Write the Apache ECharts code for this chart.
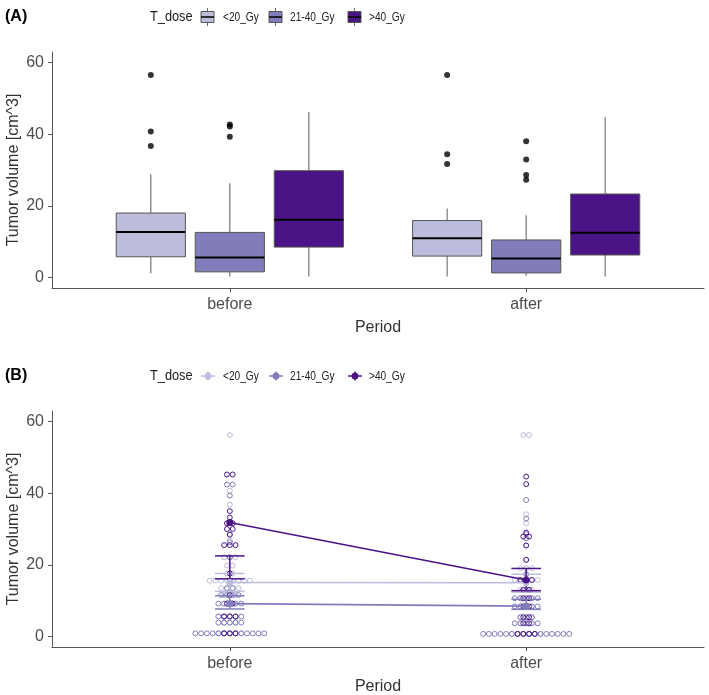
<!DOCTYPE html>
<html><head><meta charset="utf-8">
<script src="https://cdn.jsdelivr.net/npm/echarts@6/dist/echarts.min.js"></script>
<style>html,body{margin:0;padding:0;background:#fff}#c{width:709px;height:695px}</style>
</head><body><div id="c"></div>
<script>
const periods = ['before', 'after'];
const groups = ['<20_Gy', '21-40_Gy', '>40_Gy'];
const yTicks = [0, 20, 40, 60];
// Panel A boxplot stats: [lower whisker, Q1, median, Q3, upper whisker] for before / after
const boxLow = [[1.2, 5.8, 12.7, 18.0, 28.8], [0.3, 6.0, 11.0, 15.9, 19.3]];
const boxMid = [[0.3, 1.6, 5.6, 12.6, 26.3], [0.5, 1.3, 5.3, 10.5, 17.4]];
const boxHigh = [[0.3, 8.5, 16.1, 29.8, 46.2], [0.3, 6.3, 12.5, 23.3, 44.7]];
const outLow = [[56.5, 40.7, 36.7], [56.5, 34.4, 31.7]];
const outMid = [[42.7, 42.1, 39.3], [38.0, 32.9, 28.6, 27.3]];
const outHigh = [[], []];
// Panel B means and error bar limits (before / after)
const meanLow = [15.1, 15.0];
const meanMid = [9.2, 8.5];
const meanHigh = [31.8, 15.8];
const errLow = [[12.6, 17.6], [12.4, 17.4]];
const errMid = [[7.7, 11.4], [7.6, 10.4]];
const errHigh = [[16.1, 22.5], [12.8, 19.0]];
// Panel B dot plot bins: [bin value, count]
const dotsLowBefore = [[56.2,1],[40.7,1],[36.8,1],[28.6,1],[26.8,1],[22.1,3],[19.8,2],[17.6,2],[15.6,8],[13.5,4],[11.6,3],[9.2,2],[5.6,3],[3.9,3],[0.9,5]];
const dotsMidBefore = [[42.4,2],[39.3,1],[26.3,1],[22.1,1],[17.6,1],[13.5,2],[11.6,4],[9.2,5],[5.6,5],[3.9,5],[0.9,13]];
const dotsHighBefore = [[45.2,2],[35.0,1],[33.2,1],[31.6,2],[30.0,2],[28.4,1],[25.5,3],[17.6,1],[15.6,1],[11.6,1],[9.2,2],[5.6,3],[0.9,3]];
const dotsLowAfter = [[56.2,2],[34.1,1],[31.6,1],[25.4,1],[21.4,1],[19.1,3],[15.8,5],[13.0,3],[10.7,3],[8.4,3],[5.4,3],[3.7,3],[0.75,6]];
const dotsMidAfter = [[38.1,1],[32.9,1],[28.6,1],[27.4,1],[17.4,1],[13.0,2],[10.7,5],[8.4,5],[5.4,3],[3.7,5],[0.75,16]];
const dotsHighAfter = [[44.6,1],[42.5,1],[29.0,1],[27.9,2],[25.4,1],[21.4,1],[15.8,3],[13.0,2],[10.7,2],[8.4,2],[5.4,2],[3.7,2],[0.75,4]];

const colors = ['#BCBDDC', '#807DBA', '#4A1486'];
const FONT = 'Liberation Sans, Arial, sans-serif';
const dodge = 0.8 / 3, boxW = 0.7 / 3, binW = 1.6, errW = 0.1;

const boxes = [boxLow, boxMid, boxHigh];
const outs = [outLow, outMid, outHigh];
const means = [meanLow, meanMid, meanHigh];
const errs = [errLow, errMid, errHigh];
const dots = [[dotsLowBefore, dotsLowAfter], [dotsMidBefore, dotsMidAfter], [dotsHighBefore, dotsHighAfter]];

function xAxisCfg(gi) {
  return {
    type: 'value', gridIndex: gi, min: 0.4, max: 2.6,
    name: 'Period', nameLocation: 'middle', nameGap: 32, nameMoveOverlap: false,
    nameTextStyle: { fontFamily: FONT, fontSize: 16, color: '#333' },
    axisLine: { onZero: false, lineStyle: { color: '#555', width: 1 } },
    axisTick: { customValues: [1, 2], length: 4, lineStyle: { color: '#555' } },
    axisLabel: { customValues: [1, 2], formatter: v => periods[Math.round(v) - 1], fontFamily: FONT, fontSize: 16, color: '#4d4d4d', margin: 9 },
    splitLine: { show: false }
  };
}
function yAxisCfg(gi) {
  return {
    type: 'value', gridIndex: gi, min: -2.9, max: 62.9,
    name: 'Tumor volume [cm^3]', nameLocation: 'middle', nameGap: 30, nameRotate: 90, nameMoveOverlap: false,
    nameTextStyle: { fontFamily: FONT, fontSize: 16, color: '#333' },
    axisLine: { show: true, onZero: false, lineStyle: { color: '#555', width: 1 } },
    axisTick: { show: true, customValues: yTicks, length: 4, lineStyle: { color: '#555' } },
    axisLabel: { customValues: yTicks, fontFamily: FONT, fontSize: 16, color: '#4d4d4d', margin: 8 },
    splitLine: { show: false }
  };
}

const series = [];
// Panel A: boxes
groups.forEach((g, gi) => {
  series.push({
    type: 'custom', xAxisIndex: 0, yAxisIndex: 0, z: 2,
    data: periods.map((p, pi) => [pi + 1 + (gi - 1) * dodge].concat(boxes[gi][pi])),
    renderItem: function (params, api) {
      const x = api.value(0);
      const lo = api.coord([x, api.value(1)]), q1 = api.coord([x, api.value(2)]);
      const md = api.coord([x, api.value(3)]), q3 = api.coord([x, api.value(4)]);
      const hi = api.coord([x, api.value(5)]);
      const w = api.size([boxW, 0])[0];
      return { type: 'group', children: [
        { type: 'line', shape: { x1: hi[0], y1: hi[1], x2: q3[0], y2: q3[1] }, style: { stroke: '#777', lineWidth: 1.2 } },
        { type: 'line', shape: { x1: lo[0], y1: lo[1], x2: q1[0], y2: q1[1] }, style: { stroke: '#777', lineWidth: 1.2 } },
        { type: 'rect', shape: { x: q3[0] - w / 2, y: q3[1], width: w, height: q1[1] - q3[1] }, style: { fill: colors[gi], stroke: '#555', lineWidth: 1 } },
        { type: 'line', shape: { x1: md[0] - w / 2, y1: md[1], x2: md[0] + w / 2, y2: md[1] }, style: { stroke: '#000', lineWidth: 2 } }
      ] };
    }
  });
  const od = [];
  periods.forEach((p, pi) => outs[gi][pi].forEach(v => od.push([pi + 1 + (gi - 1) * dodge, v])));
  series.push({ type: 'scatter', xAxisIndex: 0, yAxisIndex: 0, z: 3, symbol: 'circle', symbolSize: 6, itemStyle: { color: '#000' }, data: od, silent: true });
});
// Panel B: dot plots
groups.forEach((g, gi) => {
  const dd = [];
  periods.forEach((p, pi) => dots[gi][pi].forEach(b => dd.push([pi + 1, b[0], b[1]])));
  series.push({
    type: 'custom', xAxisIndex: 1, yAxisIndex: 1, z: 2 + gi * 0.1, data: dd,
    renderItem: function (params, api) {
      const c = api.coord([api.value(0), api.value(1)]);
      const n = api.value(2);
      const d = api.size([0, binW])[1];
      const ch = [];
      for (let i = 0; i < n; i++) {
        ch.push({ type: 'circle', shape: { cx: c[0] + (i - (n - 1) / 2) * d, cy: c[1], r: d / 2 - 0.4 }, style: { fill: 'none', stroke: colors[gi], lineWidth: 1 } });
      }
      return { type: 'group', children: ch };
    }
  });
});
// Panel B: error bars, mean lines and points
groups.forEach((g, gi) => {
  series.push({
    type: 'custom', xAxisIndex: 1, yAxisIndex: 1, z: 5,
    data: periods.map((p, pi) => [pi + 1, errs[gi][pi][0], errs[gi][pi][1]]),
    renderItem: function (params, api) {
      const lo = api.coord([api.value(0), api.value(1)]), hi = api.coord([api.value(0), api.value(2)]);
      const w = api.size([errW, 0])[0];
      const st = { stroke: colors[gi], lineWidth: 1.5 };
      return { type: 'group', children: [
        { type: 'line', shape: { x1: lo[0], y1: lo[1], x2: hi[0], y2: hi[1] }, style: st },
        { type: 'line', shape: { x1: lo[0] - w / 2, y1: lo[1], x2: lo[0] + w / 2, y2: lo[1] }, style: st },
        { type: 'line', shape: { x1: hi[0] - w / 2, y1: hi[1], x2: hi[0] + w / 2, y2: hi[1] }, style: st }
      ] };
    }
  });
  series.push({
    type: 'line', xAxisIndex: 1, yAxisIndex: 1, z: 6,
    data: periods.map((p, pi) => [pi + 1, means[gi][pi]]),
    symbol: 'circle', symbolSize: 7, showSymbol: true,
    lineStyle: { color: colors[gi], width: 1.6 }, itemStyle: { color: colors[gi] },
    emphasis: { disabled: true }, animation: false
  });
});

// legends (graphic)
const keyX = [201, 269, 348], labX = [223, 290, 369];
function legend(yc, tag, kind) {
  const els = [
    { type: 'text', x: 5, y: yc, style: { text: tag, font: 'bold 16px ' + FONT, fill: '#000', verticalAlign: 'middle' } },
    { type: 'text', x: 150, y: yc, scaleX: 0.88, style: { text: 'T_dose', font: '14.5px ' + FONT, fill: '#222', verticalAlign: 'middle' } }
  ];
  groups.forEach((g, gi) => {
    const x = keyX[gi];
    if (kind === 'box') {
      els.push({ type: 'line', shape: { x1: x + 6.5, y1: yc - 9, x2: x + 6.5, y2: yc + 9 }, style: { stroke: '#666', lineWidth: 1 } });
      els.push({ type: 'rect', shape: { x: x, y: yc - 5.5, width: 13, height: 11 }, style: { fill: colors[gi], stroke: '#555', lineWidth: 1 } });
      els.push({ type: 'line', shape: { x1: x, y1: yc, x2: x + 13, y2: yc }, style: { stroke: '#000', lineWidth: 1.5 } });
    } else {
      els.push({ type: 'line', shape: { x1: x, y1: yc, x2: x + 14, y2: yc }, style: { stroke: colors[gi], lineWidth: 1.5 } });
      els.push({ type: 'line', shape: { x1: x + 7, y1: yc - 4.5, x2: x + 7, y2: yc + 4.5 }, style: { stroke: colors[gi], lineWidth: 1.5 } });
      els.push({ type: 'circle', shape: { cx: x + 7, cy: yc, r: 3.5 }, style: { fill: colors[gi] } });
    }
    els.push({ type: 'text', x: labX[gi], y: yc, scaleX: 0.78, style: { text: g, font: '13px ' + FONT, fill: '#222', verticalAlign: 'middle' } });
  });
  return els;
}

const chart = echarts.init(document.getElementById('c'), null, { renderer: 'canvas' });
chart.setOption({
  animation: false,
  backgroundColor: '#fff',
  grid: [
    { left: 52, top: 52, width: 652, height: 236, outerBoundsMode: 'none', containLabel: false },
    { left: 52, top: 411, width: 652, height: 236, outerBoundsMode: 'none', containLabel: false }
  ],
  xAxis: [xAxisCfg(0), xAxisCfg(1)],
  yAxis: [yAxisCfg(0), yAxisCfg(1)],
  graphic: legend(17, '(A)', 'box').concat(legend(376, '(B)', 'point')),
  series: series
});
</script></body></html>
